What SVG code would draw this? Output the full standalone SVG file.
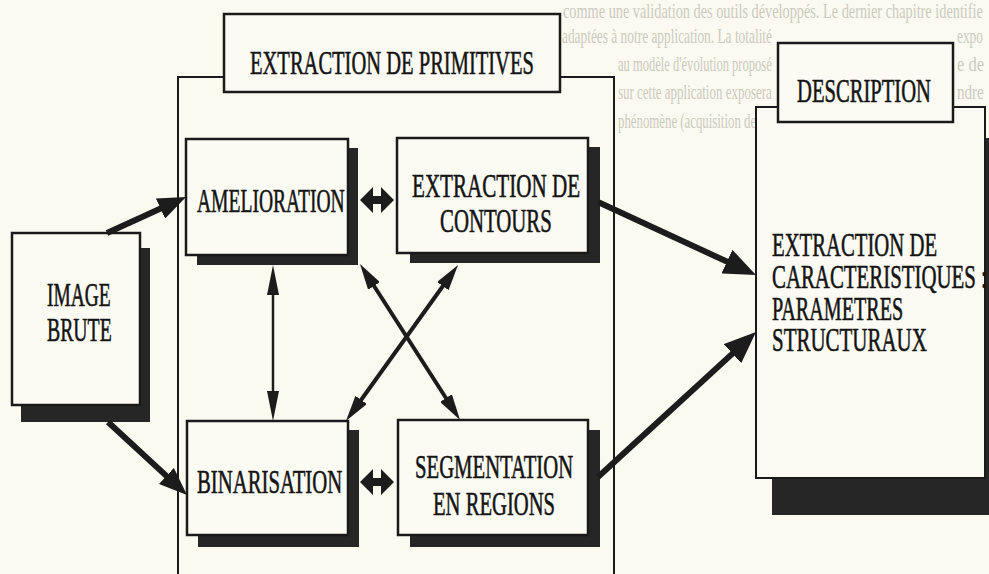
<svg xmlns="http://www.w3.org/2000/svg" width="989" height="574" viewBox="0 0 989 574">
<style>
.bg{fill:#fbfaf1}
.faint{font-family:"Liberation Serif","DejaVu Serif",serif;font-size:21px;fill:#cccabe}
.lbl{font-family:"Liberation Serif","DejaVu Serif",serif;font-size:34px;fill:#141414;stroke:#141414;stroke-width:0.6}
.box{fill:#fcfbf3;stroke:#1a1a1a;stroke-width:2.5}
.cont{fill:none;stroke:#1a1a1a;stroke-width:2}
.shadow{fill:#262626}
.big{stroke:#1c1c1c;stroke-width:6;fill:none}
.med{stroke:#1c1c1c;stroke-width:4;fill:none}
.thin{stroke:#1c1c1c;stroke-width:2.5;fill:none}
.ah{fill:#1c1c1c}
</style>
<defs>
<marker id="mBig" markerUnits="userSpaceOnUse" viewBox="0 0 28 22" markerWidth="28" markerHeight="22" refX="8" refY="11" orient="auto"><path class="ah" d="M0,0 L28,11 L0,22 Z"/></marker>
<marker id="mHuge" markerUnits="userSpaceOnUse" viewBox="0 0 32 26" markerWidth="32" markerHeight="26" refX="10" refY="13" orient="auto"><path class="ah" d="M0,0 L32,13 L0,26 Z"/></marker>
<marker id="mMed" markerUnits="userSpaceOnUse" viewBox="0 0 26 14" markerWidth="26" markerHeight="14" refX="10" refY="7" orient="auto-start-reverse"><path class="ah" d="M0,0 L26,7 L0,14 Z"/></marker>
<marker id="mThin" markerUnits="userSpaceOnUse" viewBox="0 0 30 12" markerWidth="30" markerHeight="12" refX="10" refY="6" orient="auto-start-reverse"><path class="ah" d="M0,0 L30,6 L0,12 Z"/></marker>
</defs>
<rect class="bg" x="0" y="0" width="989" height="574"/>
<g id="show-through">
<text class="faint" transform="translate(563,18) scale(0.58,1)" textLength="724" lengthAdjust="spacingAndGlyphs">comme une validation des outils développés. Le dernier chapitre identifie</text>
<text class="faint" transform="translate(562,43) scale(0.6,1)" textLength="350" lengthAdjust="spacingAndGlyphs">adaptées à notre application. La totalité</text>
<text class="faint" transform="translate(957,43) scale(0.7,1)" textLength="37" lengthAdjust="spacingAndGlyphs">expo</text>
<text class="faint" transform="translate(618,71) scale(0.62,1)" textLength="248" lengthAdjust="spacingAndGlyphs">au modèle d'évolution proposé</text>
<text class="faint" transform="translate(957,71) scale(0.75,1)" textLength="36" lengthAdjust="spacingAndGlyphs">e de</text>
<text class="faint" transform="translate(618,99) scale(0.62,1)" textLength="248" lengthAdjust="spacingAndGlyphs">sur cette application exposera</text>
<text class="faint" transform="translate(957,99) scale(0.7,1)" textLength="38" lengthAdjust="spacingAndGlyphs">ndre</text>
<text class="faint" transform="translate(618,128) scale(0.6,1)" textLength="608" lengthAdjust="spacingAndGlyphs">phénomène (acquisition des données, traitement et interprétation des ré</text>
</g>
<g id="primitives">
<rect class="cont" x="178" y="77" width="436" height="520"/>
<rect class="box" x="224" y="14" width="336" height="78"/>
<text class="lbl" transform="translate(250,74) scale(0.604,1)" textLength="470" lengthAdjust="spacingAndGlyphs">EXTRACTION DE PRIMITIVES</text>
</g>
<g id="description">
<rect class="shadow" x="772" y="138" width="230" height="377"/>
<rect class="box" x="756" y="107" width="229" height="371" style="stroke-width:2"/>
<rect class="box" x="778" y="43" width="175" height="79"/>
<text class="lbl" transform="translate(797,102) scale(0.606,1)" textLength="221" lengthAdjust="spacingAndGlyphs">DESCRIPTION</text>
<text class="lbl" transform="translate(772,256) scale(0.609,1)" textLength="271" lengthAdjust="spacingAndGlyphs">EXTRACTION DE</text>
<text class="lbl" transform="translate(772,288) scale(0.614,1)" textLength="350" lengthAdjust="spacingAndGlyphs">CARACTERISTIQUES :</text>
<text class="lbl" transform="translate(772,320) scale(0.583,1)" textLength="225" lengthAdjust="spacingAndGlyphs">PARAMETRES</text>
<text class="lbl" transform="translate(772,351) scale(0.617,1)" textLength="251" lengthAdjust="spacingAndGlyphs">STRUCTURAUX</text>
</g>
<g id="image-brute">
<rect class="shadow" x="21" y="248" width="129" height="174"/>
<rect class="box" x="12" y="233" width="128" height="172"/>
<text class="lbl" transform="translate(47,306) scale(0.574,1)" textLength="111" lengthAdjust="spacingAndGlyphs">IMAGE</text>
<text class="lbl" transform="translate(47,341) scale(0.583,1)" textLength="111" lengthAdjust="spacingAndGlyphs">BRUTE</text>
</g>
<g id="amelioration">
<rect class="shadow" x="197" y="148" width="161" height="117"/>
<rect class="box" x="186" y="139" width="162" height="116"/>
<text class="lbl" transform="translate(197,212) scale(0.568,1)" textLength="260" lengthAdjust="spacingAndGlyphs">AMELIORATION</text>
</g>
<g id="contours">
<rect class="shadow" x="410" y="147" width="190" height="116"/>
<rect class="box" x="397" y="138" width="191" height="115"/>
<text class="lbl" transform="translate(412,197) scale(0.62,1)" textLength="271" lengthAdjust="spacingAndGlyphs">EXTRACTION DE</text>
<text class="lbl" transform="translate(440,232) scale(0.611,1)" textLength="183" lengthAdjust="spacingAndGlyphs">CONTOURS</text>
</g>
<g id="binarisation">
<rect class="shadow" x="198" y="430" width="161" height="117"/>
<rect class="box" x="187" y="421" width="161" height="114"/>
<text class="lbl" transform="translate(197,493) scale(0.6,1)" textLength="242" lengthAdjust="spacingAndGlyphs">BINARISATION</text>
</g>
<g id="segmentation">
<rect class="shadow" x="410" y="430" width="190" height="117"/>
<rect class="box" x="398" y="420" width="190" height="115"/>
<text class="lbl" transform="translate(415,478) scale(0.551,1)" textLength="287" lengthAdjust="spacingAndGlyphs">SEGMENTATION</text>
<text class="lbl" transform="translate(433,515) scale(0.607,1)" textLength="201" lengthAdjust="spacingAndGlyphs">EN REGIONS</text>
</g>
<g id="connectors">
<line class="big" x1="107" y1="233" x2="167.8" y2="205.3" marker-end="url(#mBig)"/>
<line class="big" x1="108" y1="422" x2="172.3" y2="481.4" marker-end="url(#mBig)"/>
<line class="big" x1="598" y1="202" x2="736" y2="265.8" marker-end="url(#mHuge)"/>
<line class="big" x1="598" y1="477" x2="739.8" y2="346.9" marker-end="url(#mHuge)"/>
<line class="med" x1="368.6" y1="277.5" x2="451.4" y2="406.5" marker-start="url(#mMed)" marker-end="url(#mMed)"/>
<line class="med" x1="448.7" y1="278" x2="355.3" y2="408" marker-start="url(#mMed)" marker-end="url(#mMed)"/>
<line class="thin" x1="273" y1="285" x2="273" y2="401" marker-start="url(#mThin)" marker-end="url(#mThin)"/>
<path class="ah" d="M360,200 L373,187 L373,196 L381,196 L381,187 L394,200 L381,213 L381,204 L373,204 L373,213 Z"/>
<path class="ah" d="M360,482 L373,469 L373,478 L381,478 L381,469 L394,482 L381,495 L381,486 L373,486 L373,495 Z"/>
</g>
</svg>
